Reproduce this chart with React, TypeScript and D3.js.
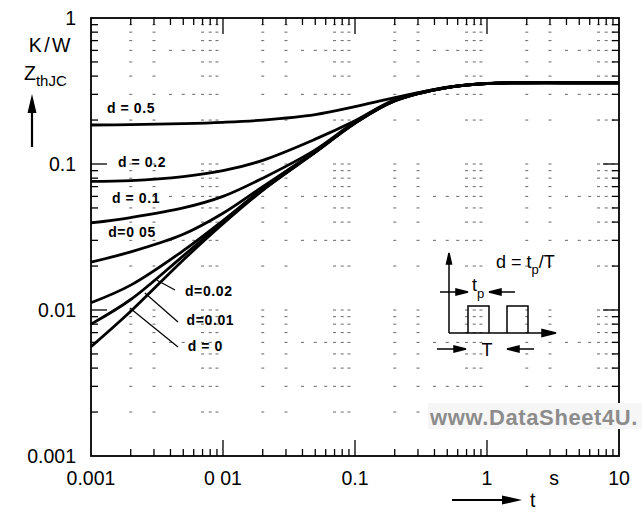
import React, { useRef, useEffect } from 'react';
import * as d3 from 'd3';

// time points (s) and Zth values (K/W)
const times = [0.001, 0.002, 0.005, 0.01, 0.02, 0.05, 0.1, 0.2, 0.5, 1, 2, 5, 10];
const zD0 = [0.0056, 0.0098, 0.022, 0.039, 0.066, 0.12, 0.19, 0.27, 0.333, 0.355, 0.36, 0.36, 0.36];
const zD001 = [0.008, 0.0118, 0.0235, 0.0398, 0.0665, 0.1205, 0.1905, 0.2705, 0.3333, 0.3552, 0.36, 0.36, 0.36];
const zD002 = [0.0112, 0.0148, 0.0255, 0.041, 0.0675, 0.121, 0.191, 0.271, 0.3336, 0.3555, 0.36, 0.36, 0.36];
const zD005 = [0.0213, 0.025, 0.033, 0.046, 0.07, 0.122, 0.192, 0.272, 0.334, 0.356, 0.36, 0.36, 0.36];
const zD01 = [0.0395, 0.043, 0.05, 0.06, 0.08, 0.125, 0.194, 0.273, 0.335, 0.356, 0.36, 0.36, 0.36];
const zD02 = [0.076, 0.077, 0.082, 0.09, 0.106, 0.148, 0.198, 0.275, 0.336, 0.357, 0.36, 0.36, 0.36];
const zD05 = [0.185, 0.186, 0.189, 0.193, 0.2, 0.218, 0.247, 0.285, 0.335, 0.357, 0.36, 0.36, 0.36];

const seriesList = [zD0, zD001, zD002, zD005, zD01, zD02, zD05];

const xTickValues = [0.001, 0.01, 0.1, 1, 10];
const xTickLabels = ['0.001', '0 01', '0.1', '1', '10'];
const yTickValues = [0.001, 0.01, 0.1, 1];
const yTickLabels = ['0.001', '0.01', '0.1', '1'];

// curve labels, positioned in data coordinates (t, Z)
const plainLabels = [
  { text: 'd = 0.5', t: 0.00132, z: 0.2234 },
  { text: 'd = 0.2', t: 0.0016, z: 0.0954 },
  { text: 'd = 0.1', t: 0.00144, z: 0.0541 },
  { text: 'd=0 05', t: 0.00135, z: 0.0316 },
];
const leaderLabels = [
  { text: 'd=0.02', t: 0.00515, z: 0.01247, from: [0.00316, 0.016], to: [0.00433, 0.0137] },
  { text: 'd=0.01', t: 0.0053, z: 0.00789, from: [0.00256, 0.01306], to: [0.00456, 0.00828] },
  { text: 'd = 0', t: 0.0054, z: 0.00524, from: [0.00197, 0.01033], to: [0.00456, 0.00558] },
];

const xMinorMult = [2, 3, 7, 8, 9];
const xExtraMult = [4, 5, 6];
const yMinorMult = [2, 3, 4, 5, 6, 7, 8, 9];

const W = 642;
const H = 522;
const FONT = '"Liberation Sans", Arial, sans-serif';

const App: React.FC = () => {
  const svgRef = useRef<SVGSVGElement>(null);

  useEffect(() => {
    const svg = d3.select(svgRef.current);
    svg.selectAll('*').remove();

    const left = 91, right = 619, top = 18, bottom = 456;
    const x = d3.scaleLog().domain([0.001, 10]).range([left, right]);
    const y = d3.scaleLog().domain([0.001, 1]).range([bottom, top]);

    svg.append('rect').attr('width', W).attr('height', H).attr('fill', '#fff');

    // sparse grid marks
    const grid = svg.append('g').attr('stroke', '#666').attr('stroke-width', 1);
    const decades = [-3, -2, -1, 0];
    const yDecades = [-3, -2, -1];
    const yVals: number[] = [];
    yDecades.forEach(k => {
      yVals.push(Math.pow(10, k));
      yMinorMult.forEach(m => yVals.push(m * Math.pow(10, k)));
    });
    decades.forEach(k => {
      const cols = xMinorMult.map(m => m * Math.pow(10, k));
      const extra = xExtraMult.map(m => m * Math.pow(10, k));
      yVals.forEach(v => {
        if (v <= 0.001) return;
        const lead = Math.round(v / Math.pow(10, Math.floor(Math.log10(v) + 1e-9)));
        const use = lead === 6 || lead === 3 ? cols.concat(extra) : cols;
        use.forEach(c => {
          grid.append('line')
            .attr('x1', x(c) - 1.5).attr('x2', x(c) + 1.5)
            .attr('y1', y(v)).attr('y2', y(v));
        });
      });
    });

    // ticks
    const ticks = svg.append('g').attr('stroke', '#000').attr('stroke-width', 1.3);
    decades.forEach(k => {
      for (let m = 1; m <= 9; m++) {
        const v = m * Math.pow(10, k);
        if (v <= 0.001) continue;
        const len = m === 1 ? 16 : 7;
        ticks.append('line').attr('x1', x(v)).attr('x2', x(v)).attr('y1', bottom).attr('y2', bottom - len);
        ticks.append('line').attr('x1', x(v)).attr('x2', x(v)).attr('y1', top).attr('y2', top + len);
      }
    });
    yDecades.forEach(k => {
      for (let m = 1; m <= 9; m++) {
        const v = m * Math.pow(10, k);
        if (v <= 0.001) continue;
        const len = m === 1 ? 16 : 7;
        ticks.append('line').attr('x1', left).attr('x2', left + len).attr('y1', y(v)).attr('y2', y(v));
        ticks.append('line').attr('x1', right).attr('x2', right - len).attr('y1', y(v)).attr('y2', y(v));
      }
    });

    // frame
    svg.append('rect')
      .attr('x', left).attr('y', top)
      .attr('width', right - left).attr('height', bottom - top)
      .attr('fill', 'none').attr('stroke', '#000').attr('stroke-width', 1.8);

    // curves
    const line = d3.line<number>()
      .x((_, i) => x(times[i]))
      .y(d => y(d))
      .curve(d3.curveCatmullRom.alpha(0.5));
    svg.append('g')
      .selectAll('path')
      .data(seriesList)
      .join('path')
      .attr('d', d => line(d))
      .attr('fill', 'none')
      .attr('stroke', '#000')
      .attr('stroke-width', 2.8);

    // curve labels
    const lab = svg.append('g')
      .attr('font-family', FONT)
      .attr('font-size', 14)
      .attr('font-weight', 'bold')
      .attr('letter-spacing', 0.6);
    plainLabels.forEach(l => {
      lab.append('text').attr('x', x(l.t)).attr('y', y(l.z)).text(l.text);
    });
    leaderLabels.forEach(l => {
      lab.append('text').attr('x', x(l.t)).attr('y', y(l.z)).text(l.text);
      svg.append('line')
        .attr('x1', x(l.from[0])).attr('y1', y(l.from[1]))
        .attr('x2', x(l.to[0])).attr('y2', y(l.to[1]))
        .attr('stroke', '#000').attr('stroke-width', 1.2);
    });

    // axis tick labels
    const tl = svg.append('g').attr('font-family', FONT).attr('font-size', 19.5).attr('fill', '#000');
    xTickValues.forEach((v, i) => {
      tl.append('text').attr('x', x(v)).attr('y', 485).attr('text-anchor', 'middle').text(xTickLabels[i]);
    });
    tl.append('text').attr('x', 554).attr('y', 485).attr('text-anchor', 'middle').text('s');
    yTickValues.forEach((v, i) => {
      tl.append('text').attr('x', 76).attr('y', y(v) + 7).attr('text-anchor', 'end').text(yTickLabels[i]);
    });

    // y-axis title
    tl.append('text').attr('x', 73).attr('y', 52).attr('text-anchor', 'end').attr('letter-spacing', 2.5).text('K/W');
    const zt = tl.append('text').attr('x', 24).attr('y', 80);
    zt.append('tspan').text('Z');
    zt.append('tspan').attr('dy', 6).attr('font-size', 15).text('thJC');
    svg.append('line').attr('x1', 32).attr('x2', 32).attr('y1', 147).attr('y2', 108)
      .attr('stroke', '#000').attr('stroke-width', 2.2);
    svg.append('path').attr('d', 'M32,94 L27.5,113 L36.5,113 Z').attr('fill', '#000');

    // x-axis title
    svg.append('line').attr('x1', 452).attr('x2', 505).attr('y1', 500).attr('y2', 500)
      .attr('stroke', '#000').attr('stroke-width', 2.2);
    svg.append('path').attr('d', 'M522,500 L502,495.5 L502,504.5 Z').attr('fill', '#000');
    tl.append('text').attr('x', 530).attr('y', 507).text('t');

    // inset pulse diagram
    const ins = svg.append('g').attr('stroke', '#000').attr('fill', 'none').attr('stroke-width', 1.5);
    ins.append('line').attr('x1', 449).attr('x2', 449).attr('y1', 333).attr('y2', 258);
    ins.append('path').attr('d', 'M449,253 L446.5,264 L451.5,264 Z').attr('fill', '#000');
    ins.append('line').attr('x1', 449).attr('x2', 548).attr('y1', 333).attr('y2', 333);
    ins.append('path').attr('d', 'M556,333 L542,329.5 L542,336.5 Z').attr('fill', '#000');
    ins.append('path').attr('d', 'M468,333 V306 H489 V333 M507,333 V306 H528 V333');
    // tp arrows
    ins.append('line').attr('x1', 440).attr('x2', 460).attr('y1', 292).attr('y2', 292);
    ins.append('path').attr('d', 'M468,292 L456,289 L456,295 Z').attr('fill', '#000');
    ins.append('line').attr('x1', 515).attr('x2', 497).attr('y1', 292).attr('y2', 292);
    ins.append('path').attr('d', 'M489,292 L501,289 L501,295 Z').attr('fill', '#000');
    // T arrows
    ins.append('line').attr('x1', 437).attr('x2', 458).attr('y1', 349).attr('y2', 349);
    ins.append('path').attr('d', 'M466,349 L454,346 L454,352 Z').attr('fill', '#000');
    ins.append('line').attr('x1', 534).attr('x2', 515).attr('y1', 349).attr('y2', 349);
    ins.append('path').attr('d', 'M507,349 L519,346 L519,352 Z').attr('fill', '#000');

    const it = svg.append('g').attr('font-family', FONT).attr('font-size', 18).attr('fill', '#000');
    const dt = it.append('text').attr('x', 496).attr('y', 268);
    dt.append('tspan').text('d = t');
    dt.append('tspan').attr('dy', 6).attr('font-size', 13).text('p');
    dt.append('tspan').attr('dy', -6).text('/T');
    const tp = it.append('text').attr('x', 472).attr('y', 291);
    tp.append('tspan').text('t');
    tp.append('tspan').attr('dy', 7).attr('font-size', 13).text('p');
    it.append('text').attr('x', 487).attr('y', 356).attr('text-anchor', 'middle').text('T');

    // watermark
    svg.append('rect').attr('x', 428).attr('y', 403).attr('width', 214).attr('height', 26).attr('fill', '#f6f6f6');
    svg.append('text')
      .attr('x', 430).attr('y', 425)
      .attr('font-family', FONT).attr('font-size', 22).attr('font-weight', 'bold')
      .attr('letter-spacing', 0.6)
      .attr('fill', '#8c8c8c')
      .text('www.DataSheet4U.');
  }, []);

  return (
    <svg ref={svgRef} width={W} height={H} style={{ position: 'absolute', left: 0, top: 0 }} />
  );
};

export default App;
